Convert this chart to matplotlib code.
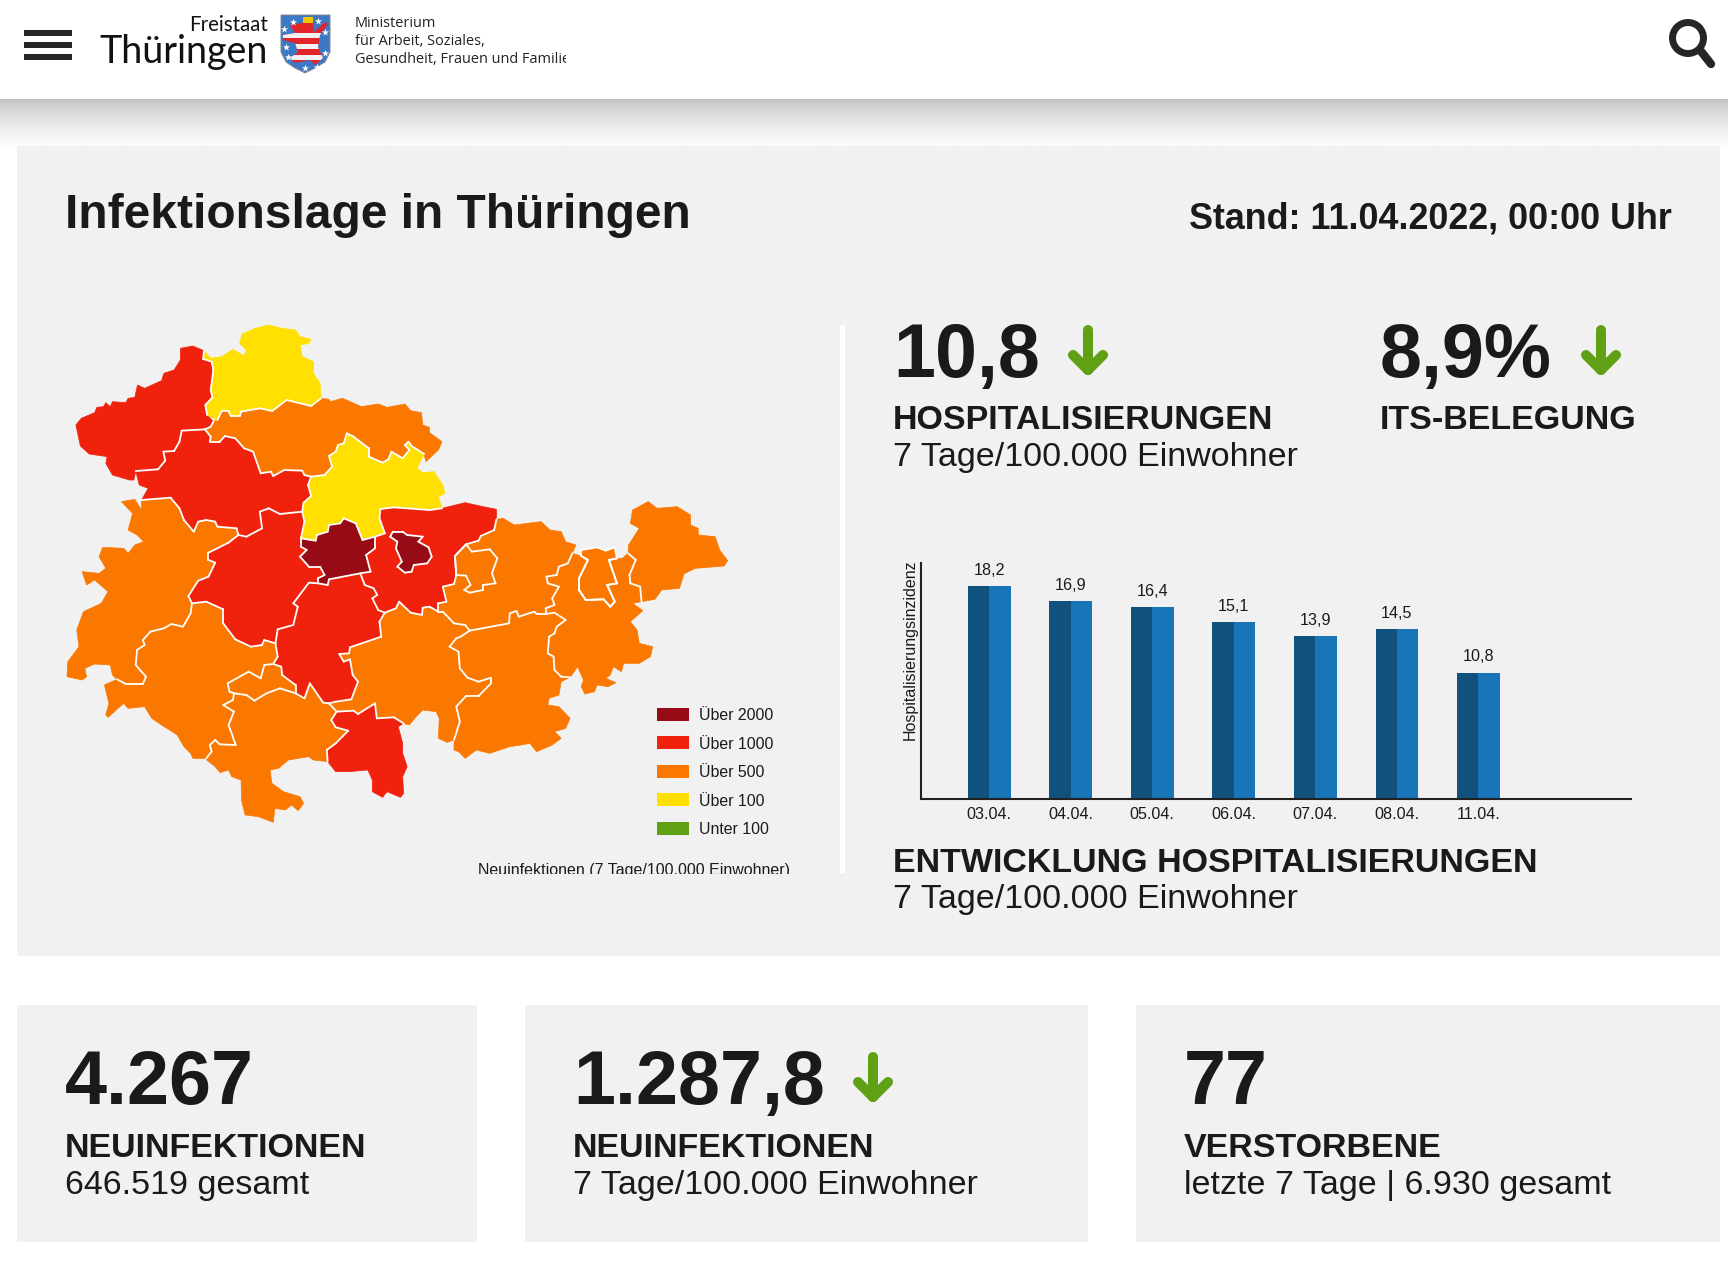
import matplotlib
matplotlib.use("Agg")
import matplotlib.pyplot as plt
from matplotlib.patches import Rectangle, Polygon, Circle
from matplotlib.collections import LineCollection
import numpy as np

plt.rcParams['font.family'] = ['Liberation Sans', 'DejaVu Sans']

# bar chart data
tage = ["03.04.", "04.04.", "05.04.", "06.04.", "07.04.", "08.04.", "11.04."]
hospitalisierung = [18.2, 16.9, 16.4, 15.1, 13.9, 14.5, 10.8]

# legend
legende_namen = ["Über 2000", "Über 1000", "Über 500", "Über 100", "Unter 100"]
legende_farben = ["#970b16", "#f0220e", "#fb7800", "#ffe000", "#5fa014"]
dunkelrot, rot, orange, gelb, gruen = legende_farben

# map outlines
eichsfeld = [(292,115),(320,108),(345,122),(343,147),(362,155),(366,180),(360,240),(364,262),(348,285),(352,315),(366,335),(360,350),(347,358),(295,362),(290,395),(278,423),(254,425),(258,452),(242,478),(192,483),(188,510),(178,510),(140,495),(125,460),(128,440),(88,432),(68,408),(58,345),(70,325),(100,308),(105,292),(120,290),(125,278),(135,290),(140,275),(170,278),(175,265),(190,262),(196,225),(212,235),(250,212),(255,190),(278,180),(292,150)]
nordhausen = [(345,122),(360,145),(385,140),(410,118),(435,138),(440,120),(425,100),(430,72),(460,55),(490,45),(520,55),(550,60),(560,80),(585,88),(580,100),(560,105),(565,140),(590,155),(590,190),(605,220),(607,265),(585,288),(530,270),(498,303),(470,295),(428,305),(425,318),(405,318),(400,303),(385,302),(375,330),(352,315),(348,285),(364,262),(360,240),(366,180),(362,155),(343,147)]
kyffhaeuser = [(607,265),(625,268),(628,275),(655,265),(698,290),(735,282),(755,292),(795,282),(808,302),(832,308),(835,345),(850,352),(850,368),(878,395),(870,420),(842,455),(838,432),(810,408),(803,395),(795,405),(805,420),(790,445),(765,425),(758,448),(745,458),(714,440),(714,415),(680,380),(665,370),(658,400),(645,405),(640,425),(625,438),(632,470),(615,495),(585,500),(570,495),(565,482),(525,480),(500,498),(495,485),(472,490),(455,425),(435,415),(415,385),(392,378),(380,395),(358,395),(360,380),(347,358),(360,350),(366,335),(375,330),(385,302),(400,303),(405,318),(425,318),(428,305),(470,295),(498,303),(530,270),(585,288)]
soemmerda = [(665,370),(680,380),(714,415),(714,440),(745,458),(758,448),(765,425),(790,445),(805,420),(795,405),(803,395),(810,408),(838,432),(822,475),(835,488),(860,485),(880,525),(885,550),(870,560),(878,595),(850,600),(770,592),(740,597),(738,625),(750,670),(728,680),(700,690),(685,640),(658,625),(650,640),(625,645),(622,665),(598,675),(595,692),(562,685),(570,635),(565,605),(568,578),(585,558),(578,525),(585,500),(615,495),(632,470),(625,438),(640,425),(645,405),(658,400)]
unstrut = [(192,483),(242,478),(258,452),(254,425),(278,423),(290,395),(295,362),(347,358),(360,380),(358,395),(380,395),(392,378),(415,385),(435,415),(455,425),(472,490),(495,485),(500,498),(525,480),(565,482),(570,495),(585,500),(578,525),(585,558),(568,578),(565,605),(515,612),(490,595),(470,605),(475,655),(440,680),(422,675),(418,655),(375,650),(370,635),(350,630),(332,635),(322,665),(300,630),(290,595),(270,563),(205,570),(220,535),(200,525)]
wartburg = [(205,570),(270,563),(290,595),(300,630),(322,665),(332,635),(350,630),(370,635),(375,650),(418,655),(422,675),(400,698),(355,728),(355,750),(370,758),(355,800),(332,812),(310,858),(318,880),(315,910),(298,950),(272,942),(255,955),(225,965),(208,990),(212,1005),(195,1020),(192,1065),(215,1100),(208,1122),(170,1122),(150,1108),(140,1095),(135,1065),(100,1062),(78,1075),(82,1100),(72,1110),(38,1100),(40,1055),(65,1010),(60,960),(75,905),(115,880),(130,845),(100,810),(82,825),(72,785),(110,790),(125,775),(110,740),(118,712),(165,715),(175,730),(190,705),(210,695),(195,675),(175,660),(185,610),(160,575),(190,568),(205,600)]
gotha = [(470,605),(490,595),(515,612),(565,605),(570,635),(562,685),(562,710),(575,720),(560,740),(580,770),(605,770),(615,795),(600,805),(600,820),(580,818),(545,880),(555,890),(545,945),(510,958),(505,1000),(480,990),(475,1005),(450,1010),(415,988),(388,940),(388,898),(350,875),(318,880),(310,858),(332,812),(355,800),(370,758),(355,750),(355,728),(400,698),(422,675),(440,680),(475,655)]
erfurt = [(562,685),(595,692),(598,675),(622,665),(625,645),(650,640),(658,625),(685,640),(700,690),(728,680),(728,715),(708,735),(718,785),(695,790),(625,808),(622,825),(600,820),(600,805),(615,795),(605,770),(580,770),(560,740),(575,720),(562,710)]
weimarer_land = [(740,597),(770,592),(850,600),(878,595),(930,578),(970,590),(1000,598),(1000,628),(995,660),(965,678),(960,692),(932,703),(907,738),(910,795),(905,822),(880,830),(888,875),(870,880),(870,905),(850,890),(835,893),(833,915),(808,908),(782,875),(775,895),(750,908),(735,900),(722,865),(733,855),(725,835),(705,825),(695,790),(718,785),(708,735),(728,715),(728,680),(750,670),(738,625)]
weimar = [(762,680),(768,665),(790,665),(800,675),(835,680),(825,695),(848,712),(855,740),(845,760),(815,765),(810,785),(795,788),(778,770),(788,755),(775,715),(778,695)]
ilm = [(580,818),(600,820),(622,825),(625,808),(695,790),(705,825),(725,835),(733,855),(722,865),(735,900),(750,908),(738,935),(742,980),(672,1012),(670,1030),(648,1032),(658,1055),(672,1048),(678,1095),(690,1115),(675,1168),(640,1175),(625,1180),(612,1178),(582,1120),(570,1165),(550,1150),(550,1125),(520,1095),(518,1070),(500,1062),(510,1040),(505,1000),(510,958),(545,945),(555,890),(545,880)]
schmalkalden = [(318,880),(350,875),(388,898),(388,940),(415,988),(450,1010),(475,1005),(480,990),(505,1000),(510,1040),(500,1062),(480,1065),(472,1105),(445,1085),(398,1120),(402,1145),(412,1150),(410,1170),(388,1185),(412,1205),(400,1245),(416,1305),(380,1303),(370,1290),(358,1305),(362,1325),(350,1345),(320,1345),(315,1330),(300,1310),(285,1275),(250,1245),(228,1225),(212,1190),(175,1195),(165,1180),(130,1222),(125,1215),(132,1180),(122,1125),(150,1108),(170,1122),(208,1122),(215,1100),(192,1065),(195,1020),(212,1005),(208,990),(225,965),(255,955),(272,942),(298,950),(315,910)]
suhl = [(398,1120),(445,1085),(472,1105),(480,1065),(500,1062),(518,1070),(520,1095),(550,1125),(550,1150),(515,1135),(485,1150),(458,1172),(440,1155),(412,1150),(402,1145)]
hildburghausen = [(412,1150),(440,1155),(458,1172),(485,1150),(515,1135),(550,1150),(570,1165),(582,1120),(612,1178),(625,1180),(642,1205),(630,1230),(640,1252),(668,1262),(640,1300),(620,1320),(622,1355),(590,1350),(579,1340),(534,1350),(512,1375),(493,1380),(497,1420),(523,1445),(560,1460),(568,1480),(556,1502),(541,1485),(527,1500),(504,1495),(500,1537),(467,1520),(437,1515),(429,1470),(428,1410),(407,1400),(400,1380),(381,1388),(370,1370),(351,1350),(350,1345),(362,1325),(358,1305),(370,1290),(380,1303),(416,1305),(400,1245),(412,1205),(388,1185),(410,1170)]
sonneberg = [(642,1205),(680,1202),(690,1212),(728,1180),(732,1225),(770,1222),(792,1240),(780,1250),(790,1300),(790,1330),(800,1370),(790,1400),(792,1450),(785,1462),(755,1445),(745,1462),(722,1445),(722,1410),(712,1380),(670,1385),(640,1385),(622,1355),(620,1320),(640,1300),(668,1262),(640,1252),(630,1230)]
saalfeld = [(750,908),(775,895),(782,875),(808,908),(833,915),(835,893),(850,890),(870,905),(880,905),(905,940),(930,945),(940,962),(920,980),(910,985),(895,1010),(915,1025),(918,1075),(935,1103),(960,1115),(988,1103),(988,1120),(960,1158),(932,1158),(910,1190),(918,1235),(905,1290),(890,1297),(870,1285),(872,1225),(865,1205),(835,1200),(820,1220),(805,1245),(792,1240),(770,1222),(732,1225),(728,1180),(690,1212),(680,1202),(642,1205),(625,1180),(640,1175),(675,1168),(690,1115),(678,1095),(672,1048),(658,1055),(648,1032),(670,1030),(672,1012),(742,980),(738,935)]
saale_orla = [(940,962),(1028,940),(1030,910),(1045,903),(1050,920),(1085,905),(1090,912),(1110,912),(1130,908),(1155,930),(1135,950),(1130,970),(1118,980),(1115,1030),(1128,1040),(1130,1080),(1145,1100),(1165,1102),(1145,1115),(1140,1155),(1118,1165),(1115,1185),(1140,1190),(1165,1225),(1155,1255),(1130,1265),(1145,1285),(1125,1305),(1090,1325),(1075,1300),(1055,1305),(1030,1310),(985,1330),(955,1320),(930,1345),(915,1325),(905,1320),(905,1290),(918,1235),(910,1190),(932,1158),(960,1158),(988,1120),(988,1103),(960,1115),(935,1103),(918,1075),(915,1025),(895,1010),(910,985),(920,980)]
holzland = [(932,703),(960,692),(965,678),(995,660),(1000,628),(1015,625),(1040,645),(1100,635),(1120,660),(1145,665),(1155,695),(1178,705),(1170,730),(1160,760),(1140,770),(1135,795),(1112,800),(1115,820),(1140,830),(1125,865),(1130,885),(1110,895),(1110,912),(1090,912),(1085,905),(1050,920),(1045,903),(1030,910),(1028,940),(940,962),(930,945),(905,940),(880,905),(870,905),(870,880),(888,875),(880,830),(905,822),(910,795),(907,738)]
jena = [(932,703),(945,725),(985,718),(1002,745),(990,790),(998,820),(970,825),(970,840),(940,848),(928,840),(942,825),(932,797),(910,795),(907,738)]
greiz = [(1170,730),(1190,738),(1205,750),(1185,805),(1185,840),(1200,870),(1240,868),(1255,890),(1265,875),(1248,825),(1270,820),(1252,750),(1270,745),(1282,745),(1295,730),(1312,750),(1298,795),(1300,820),(1322,830),(1325,875),(1305,880),(1328,902),(1300,935),(1315,960),(1320,1000),(1350,1010),(1345,1040),(1320,1060),(1285,1060),(1280,1085),(1262,1070),(1255,1095),(1245,1105),(1268,1118),(1250,1130),(1225,1125),(1220,1145),(1198,1152),(1190,1130),(1195,1110),(1182,1070),(1165,1102),(1145,1100),(1130,1080),(1128,1040),(1115,1030),(1118,980),(1130,970),(1135,950),(1155,930),(1130,908),(1110,912),(1110,895),(1130,885),(1125,865),(1140,830),(1115,820),(1112,800),(1135,795),(1140,770),(1160,760)]
gera = [(1190,720),(1225,712),(1245,722),(1265,712),(1270,745),(1252,750),(1270,820),(1248,825),(1265,875),(1255,890),(1240,868),(1200,870),(1185,840),(1185,805),(1205,750),(1190,738)]
altenburg = [(1295,730),(1296,705),(1320,655),(1300,640),(1305,600),(1340,575),(1360,595),(1405,590),(1435,615),(1435,645),(1452,655),(1452,675),(1490,680),(1500,720),(1518,752),(1510,768),(1445,775),(1420,792),(1410,835),(1370,840),(1355,868),(1325,875),(1322,830),(1300,820),(1298,795),(1312,750)]

kreise = [
    (eichsfeld, rot), (nordhausen, gelb), (kyffhaeuser, orange), (soemmerda, gelb),
    (unstrut, rot), (wartburg, orange), (gotha, rot), (weimarer_land, rot),
    (erfurt, dunkelrot), (ilm, rot), (schmalkalden, orange), (suhl, orange),
    (hildburghausen, orange), (sonneberg, rot), (saalfeld, orange), (saale_orla, orange),
    (holzland, orange), (jena, orange), (greiz, orange), (gera, orange),
    (altenburg, orange), (weimar, dunkelrot),
]

fig = plt.figure(figsize=(17.28, 12.72), dpi=100, facecolor="white")

# page axes in pixels, header and text go here
page = fig.add_axes([0, 0, 1, 1])
page.axis("off")

grau = "#f1f1f1"
schwarz = "#1a1a1a"

# shadow under the header
verlauf = (0.74 + 0.25 * np.linspace(0, 1, 64) ** 0.6).reshape(-1, 1)
page.imshow(verlauf, cmap="gray", vmin=0, vmax=1, extent=(0, 1728, 146, 99), aspect="auto", zorder=0)
page.set_xlim(0, 1728)
page.set_ylim(1272, 0)

page.add_patch(Rectangle((17, 146), 1703, 810, color=grau, lw=0, zorder=1))
page.add_patch(Rectangle((17, 1005), 460, 237, color=grau, lw=0, zorder=1))
page.add_patch(Rectangle((525, 1005), 563, 237, color=grau, lw=0, zorder=1))
page.add_patch(Rectangle((1136, 1005), 584, 237, color=grau, lw=0, zorder=1))
page.add_patch(Rectangle((840, 325), 4.5, 548, color="white", lw=0, zorder=2))

# header: menu icon
for y in [30, 42, 54]:
    page.add_patch(Rectangle((24, y), 48, 6, color="#262626", lw=0, zorder=3))

page.text(268, 31, "Freistaat", family="Lato", fontsize=14.8, ha="right", va="baseline", color="#111111", zorder=3)
page.text(268, 63, "Thüringen", family="Lato", fontsize=27.1, ha="right", va="baseline", color="#111111", zorder=3)

# coat of arms, simplified
wappen = Polygon([(281,15),(330,15),(330,52),(325,62),(315,68),(305,73),(295,68),(286,62),(281,52)],
                 closed=True, facecolor="#3c78c4", edgecolor="#888888", lw=0.7, zorder=3)
page.add_patch(wappen)
loewe_x = [302, 313, 314, 325, 328, 320, 318, 323, 315, 310, 295, 290, 298, 295, 283, 283, 295, 290]
loewe_y = [23, 23, 32, 22, 24, 35, 47, 58, 65, 60, 63, 58, 52, 43, 40, 35, 33, 25]
loewe = Polygon(list(zip(loewe_x, loewe_y)), closed=True, facecolor="#e3252b", lw=0, zorder=4)
page.add_patch(loewe)
for y0 in [33, 44, 55]:
    streifen = Rectangle((281, y0), 49, 5, color="#f2f2f2", lw=0, zorder=5)
    page.add_patch(streifen)
    streifen.set_clip_path(loewe)
page.add_patch(Rectangle((303, 17), 10, 6, color="#f2c500", lw=0, zorder=5))
sterne_x = [293, 318, 284, 325, 286, 325, 288, 305, 317]
sterne_y = [22, 21, 29, 32, 47, 53, 57, 68, 67]
page.scatter(sterne_x, sterne_y, marker="*", s=30, color="white", lw=0, zorder=6)

for y, zeile in zip([27, 45, 63], ["Ministerium", "für Arbeit, Soziales,", "Gesundheit, Frauen und Familie"]):
    t = page.text(355, y, zeile, family="Open Sans", fontsize=10.45, va="baseline", color="#222222", zorder=3)
    t.set_clip_path(Rectangle((355, 0), 211, 99, transform=page.transData))
    t.set_clip_on(True)

# magnifier
page.add_patch(Circle((1688, 38), 15.5, fill=False, edgecolor="#262626", lw=5, zorder=3))
page.plot([1700, 1711], [50, 64], color="#262626", lw=6, solid_capstyle="round", zorder=3)

# big texts
page.text(65, 228, "Infektionslage in Thüringen", weight="bold", fontsize=34.5, color=schwarz, zorder=3)
page.text(1672, 228, "Stand: 11.04.2022, 00:00 Uhr", weight="bold", fontsize=25.85, ha="right", color=schwarz, zorder=3)

def kennzahl(x, y, zahl, titel, zeile=None, abstand=52):
    page.text(x, y, zahl, weight="bold", fontsize=54.4, color=schwarz, zorder=3)
    page.text(x, y + abstand, titel, weight="bold", fontsize=24.5, color=schwarz, zorder=3)
    if zeile:
        page.text(x, y + abstand + 37, zeile, fontsize=24.5, color=schwarz, zorder=3)

def pfeil(x, y0):
    page.plot([x, x], [y0 + 5, y0 + 45], color=gruen, lw=7.2, solid_capstyle="round", zorder=3)
    page.plot([x - 15, x, x + 15], [y0 + 30, y0 + 45, y0 + 30], color=gruen, lw=7.2,
              solid_capstyle="round", solid_joinstyle="round", zorder=3)

kennzahl(893, 377, "10,8", "HOSPITALISIERUNGEN", "7 Tage/100.000 Einwohner")
kennzahl(1380, 377, "8,9%", "ITS-BELEGUNG")
pfeil(1088, 325)
pfeil(1601, 325)

page.text(893, 872, "ENTWICKLUNG HOSPITALISIERUNGEN", weight="bold", fontsize=24.5, color=schwarz, zorder=3)
page.text(893, 908, "7 Tage/100.000 Einwohner", fontsize=24.5, color=schwarz, zorder=3)

kennzahl(65, 1104, "4.267", "NEUINFEKTIONEN", "646.519 gesamt", abstand=53)
kennzahl(573, 1104, "1.287,8", "NEUINFEKTIONEN", "7 Tage/100.000 Einwohner", abstand=53)
kennzahl(1184, 1104, "77", "VERSTORBENE", "letzte 7 Tage | 6.930 gesamt", abstand=53)
pfeil(873, 1052)

# map
karte = fig.add_axes([50 / 1728, (1272 - 830) / 1272, 700 / 1728, 520 / 1272])
karte.set_xlim(0, 1568)
karte.set_ylim(1560, 0)
karte.axis("off")
karte.patch.set_alpha(0)

kanten = {}
for punkte, farbe in kreise:
    karte.add_patch(Polygon(punkte, closed=True, facecolor=farbe, edgecolor=farbe, lw=0.5))
    for a, b in zip(punkte, punkte[1:] + punkte[:1]):
        kante = frozenset((a, b))
        kanten[kante] = kanten.get(kante, 0) + 1

grenzen = [tuple(k) for k, n in kanten.items() if n > 1]
for punkte in [weimar, jena, gera]:
    grenzen += list(zip(punkte, punkte[1:] + punkte[:1]))
karte.add_collection(LineCollection(grenzen, colors="white", linewidths=1.3, capstyle="round"))

# map legend
for i, (name, farbe) in enumerate(zip(legende_namen, legende_farben)):
    y = 708 + i * 28.4
    page.add_patch(Rectangle((657, y), 32, 13, color=farbe, lw=0, zorder=3))
    page.text(699, y + 6.5, name, fontsize=11.4, va="center_baseline", color=schwarz, zorder=3)

notiz = page.text(478, 875, "Neuinfektionen (7 Tage/100.000 Einwohner)", fontsize=11.55, va="baseline", color=schwarz, zorder=3)
notiz.set_clip_path(Rectangle((470, 850), 330, 23.5, transform=page.transData))
notiz.set_clip_on(True)

# bar chart
balken = fig.add_axes([921 / 1728, (1272 - 799) / 1272, 710 / 1728, 236 / 1272])
balken.patch.set_alpha(0)
x = np.arange(len(tage))
breite = 0.525
balken.bar(x - breite / 4, hospitalisierung, breite / 2, color="#10517e", lw=0)
balken.bar(x + breite / 4, hospitalisierung, breite / 2, color="#1875b8", lw=0)
balken.set_xlim(-0.835, 7.87)
balken.set_ylim(0, 20.17)
balken.spines[["top", "right"]].set_visible(False)
balken.spines[["left", "bottom"]].set_linewidth(1.5)
balken.spines[["left", "bottom"]].set_color("#222222")
balken.set_yticks([])
balken.set_xticks(x, tage, fontsize=11.6, color=schwarz)
balken.tick_params(axis="x", length=0, pad=6)
balken.set_ylabel("Hospitalisierungsinzidenz", fontsize=11.5, loc="top", labelpad=2, color=schwarz)
balken.yaxis.set_label_coords(-0.004, 1.015)
for xi, wert in zip(x, hospitalisierung):
    balken.annotate(f"{wert:.1f}".replace(".", ","), (xi, wert), xytext=(0, 6), textcoords="offset points",
                    ha="center", va="bottom", fontsize=11.6, color=schwarz)

fig.savefig("out.png", dpi=100)
